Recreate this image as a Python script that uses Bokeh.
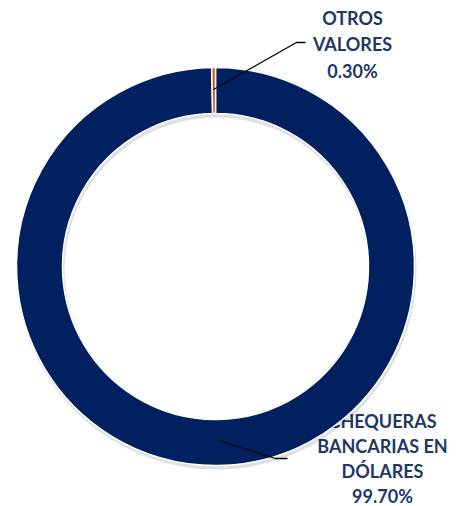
import numpy as np
from bokeh.plotting import figure
from bokeh.models import Range1d, ColumnDataSource
from bokeh.core.properties import value
from bokeh.embed import file_html
from bokeh.resources import INLINE

categories = ["CHEQUERAS BANCARIAS EN DÓLARES", "OTROS VALORES"]
values = [99.70, 0.30]
label_lines = [["CHEQUERAS", "BANCARIAS EN", "DÓLARES", "99.70%"],
               ["OTROS", "VALORES", "0.30%"]]
colors = ["#002060", "#C55A11"]

W, H = 463, 506
p = figure(width=W, height=H, output_backend="svg", toolbar_location=None,
           x_range=Range1d(0, W), y_range=Range1d(0, H), min_border=0)
p.axis.visible = False
p.grid.visible = False
p.outline_line_color = None
p.background_fill_color = "white"
p.border_fill_color = "white"

def Y(y):
    return H - y

cx, cy = 215, Y(266)
r_out, r_in = 199, 153

# labels (drawn first so the ring covers them, as in the reference)
label_pos = [(382, 420, 25.3), (352, 17, 26.8)]
for lines, (lx, ly, sp) in zip(label_lines, label_pos):
    ys = [Y(ly + i * sp) for i in range(len(lines))]
    p.text(x=[lx] * len(lines), y=ys, text=lines, text_align="center",
           text_baseline="middle", text_font=value("Lato"),
           text_font_style="bold", text_font_size="18px", text_color="#1F3864",
           text_line_height=1.0)

# shadow
p.annular_wedge(x=[cx + 1], y=[cy - 3], inner_radius=r_in - 1, outer_radius=r_out + 1,
                start_angle=[0], end_angle=[2 * np.pi], fill_color="#000000",
                fill_alpha=0.12, line_color=None)

vals = np.array(values) / sum(values)
cum = np.concatenate([[0], np.cumsum(vals)])
start = np.pi / 2 - cum[:-1] * 2 * np.pi
end = np.pi / 2 - cum[1:] * 2 * np.pi
src = ColumnDataSource(dict(cat=categories, start=start, end=end, color=colors))
p.annular_wedge(x=cx, y=cy, inner_radius=r_in, outer_radius=r_out,
                start_angle="start", end_angle="end", direction="clock",
                fill_color="color", line_color="white", line_width=1.5, source=src)

# leader lines
p.line(x=[213, 296, 305], y=[Y(89), Y(42), Y(42)], line_color="black", line_width=1.3)
p.line(x=[218, 275, 287], y=[Y(440), Y(458), Y(458)], line_color="black", line_width=1.3)

open("out.html", "w").write(file_html(p, INLINE))
